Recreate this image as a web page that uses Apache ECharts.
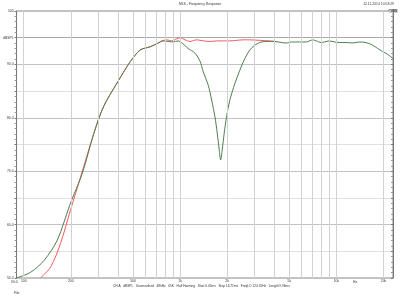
<!DOCTYPE html>
<html>
<head>
<meta charset="utf-8">
<script src="https://cdn.jsdelivr.net/npm/echarts@6/dist/echarts.min.js"></script>
<style>
html, body { margin: 0; padding: 0; background: #fff; }
#chart { width: 400px; height: 300px; }
</style>
</head>
<body>
<div id="chart"></div>
<script>
// measured response (gated) - green
var greenFreq = [90, 111, 135, 164, 199, 237, 281, 324, 395, 480, 556, 644, 724, 779, 839, 902, 971,
    1030, 1124, 1246, 1341, 1407, 1514, 1592, 1671, 1729, 1780, 1817, 1860, 1915, 1983, 2081, 2240,
    2411, 2595, 2792, 3005, 3234, 3567, 4027, 4444, 4784, 5148, 5809, 6411, 7063, 7426, 7993, 8394,
    9025, 9713, 10454, 11532, 12704, 14000, 15460, 17030, 18330, 19730, 21240, 23000];
var greenDb = [50.0, 51.1, 53.3, 57.1, 64.0, 69.6, 77.1, 82.1, 86.5, 90.5, 92.7, 93.3, 94.0, 94.4, 94.3, 94.2, 94.4,
    94.0, 93.0, 92.1, 90.6, 88.6, 86.1, 83.3, 80.2, 77.1, 74.0, 72.1, 74.0, 77.1, 80.2, 83.3, 86.4,
    88.9, 91.1, 92.7, 93.6, 94.1, 94.3, 94.3, 94.1, 94.0, 94.2, 94.2, 94.2, 94.6, 94.4, 94.1, 94.2,
    94.4, 94.2, 94.1, 94.1, 94.0, 94.2, 94.1, 93.6, 93.0, 92.4, 91.9, 91.1];

// reference response - red
var redFreq = [128, 149, 172, 199, 231, 281, 324, 395, 480, 556, 644, 724, 764, 823, 885, 953, 1000,
    1076, 1158, 1277, 1407, 1553, 1713, 1887, 2081, 2297, 2530, 2792, 3234, 3743, 4027];
var redDb = [50.0, 52.1, 56.5, 62.7, 68.9, 77.1, 82.1, 86.5, 90.5, 92.7, 93.3, 94.0, 94.4, 94.6, 94.4, 94.8, 95.0,
    94.6, 94.3, 94.6, 94.4, 94.3, 94.4, 94.4, 94.4, 94.5, 94.6, 94.6, 94.5, 94.4, 94.3];

var xGridLines = [100, 200, 300, 400, 500, 600, 700, 800, 900, 1000, 2000, 3000, 4000, 5000,
    6000, 7000, 8000, 9000, 10000, 20000];
var xTickLabels = {100: '100', 200: '200', 500: '500', 1000: '1k', 2000: '2k',
    5000: '5k', 10000: '10k', 20000: '20k'};

var X_MIN = 90, X_MAX = 23000;

var zip = function(xs, ys) {
    var out = [];
    for (var i = 0; i < xs.length; i++) out.push([xs[i], ys[i]]);
    return out;
};

var vLines = xGridLines.map(function(f) { return {xAxis: f}; });

var chart = echarts.init(document.getElementById('chart'), null, {renderer: 'canvas'});
var txt = {fontFamily: 'Liberation Sans', fontSize: 3.4, fill: '#333'};

var option = {
    animation: false,
    backgroundColor: '#fff',
    grid: {left: 15, right: 7, top: 11, bottom: 22, show: true, borderColor: '#888', borderWidth: 1},
    xAxis: {
        type: 'log', min: X_MIN, max: X_MAX,
        axisLine: {show: false}, axisTick: {show: false},
        axisLabel: {show: false}, splitLine: {show: false}
    },
    yAxis: [{
        type: 'value', min: 50, max: 100, interval: 5,
        axisLine: {show: true, lineStyle: {color: '#777'}},
        axisTick: {show: true, length: 2, lineStyle: {color: '#777'}},
        minorTick: {show: true, splitNumber: 5, length: 2, lineStyle: {color: '#999'}},
        axisLabel: {
            fontSize: 3.4, color: '#333', margin: 3, fontFamily: 'Liberation Sans',
            formatter: function(v) {
                if (v === 100) return '100';
                if (v === 95) return 'dBSPL';
                if (v % 10 === 0) return v.toFixed(1);
                return '';
            }
        },
        splitLine: {show: true, lineStyle: {color: ['#c2c2c2', '#e0e0e0', '#c2c2c2', '#e0e0e0', '#c2c2c2',
            '#e0e0e0', '#c2c2c2', '#e0e0e0', '#c2c2c2', '#a8a8a8', '#c2c2c2'], width: 1}}
    }, {
        type: 'value', min: 50, max: 100, interval: 5, position: 'right',
        axisLine: {show: true, lineStyle: {color: '#777'}},
        axisTick: {show: true, inside: true, length: 2, lineStyle: {color: '#777'}},
        minorTick: {show: true, splitNumber: 5, length: 2, lineStyle: {color: '#999'}},
        axisLabel: {show: false}, splitLine: {show: false}
    }],
    series: [{
        name: 'grid', type: 'line', data: [], silent: true,
        markLine: {
            silent: true, symbol: ['none', 'none'], animation: false,
            lineStyle: {type: 'solid', color: '#d2d2d2', width: 1},
            label: {
                position: 'start', distance: 2, fontSize: 3.4, color: '#333', fontFamily: 'Liberation Sans',
                formatter: function(p) { return xTickLabels[p.value] || ''; }
            },
            data: vLines
        }
    }, {
        name: 'ref', type: 'line', data: zip(redFreq, redDb), showSymbol: false, smooth: 0.3,
        lineStyle: {color: '#f25a5a', width: 1}, z: 3
    }, {
        name: 'meas', type: 'line', data: zip(greenFreq, greenDb), showSymbol: false, smooth: 0.3,
        lineStyle: {color: '#4f7f4f', width: 1}, z: 4
    }],
    graphic: [
        {type: 'text', left: 'center', top: 3, style: Object.assign({text: 'MLS - Frequency Response'}, txt)},
        {type: 'text', right: 6, top: 3, style: Object.assign({text: '12.11.2014 10:53:29'}, txt)},
        {type: 'rect', right: 2, top: 9, shape: {width: 9, height: 4}, style: {fill: '#cfcfcf'}},
        {type: 'text', right: 3, top: 9.3, style: Object.assign({text: 'CURS'}, txt, {fontSize: 3, fontWeight: 'bold'})},
        {type: 'text', left: 11, top: 280.5, style: Object.assign({text: '90.0'}, txt)},
        {type: 'text', left: 113, top: 285, style: Object.assign({
            text: 'CH A   dBSPL   Unsmoothed   48kHz   65K   Half Hanning   Start 6.05ms   Stop 16.71ms   FreqLO 124.55Hz   Length 9.96ms'
        }, txt, {fontSize: 3.2})},
        {type: 'text', left: 353, top: 280.5, style: Object.assign({text: 'Hz'}, txt)},
        {type: 'text', left: 14, top: 292, style: Object.assign({text: 'File'}, txt)}
    ]
};

chart.setOption(option);
</script>
</body>
</html>
